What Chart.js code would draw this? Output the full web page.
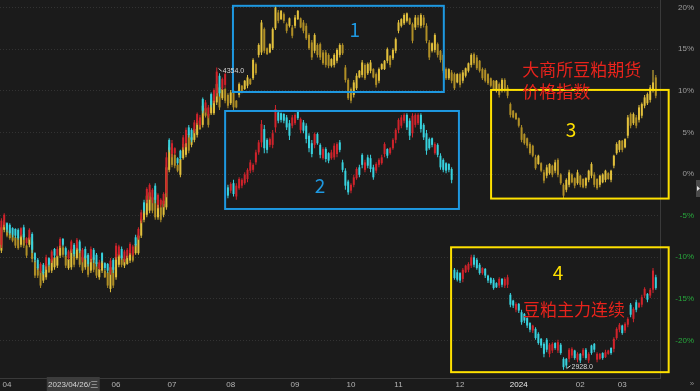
<!DOCTYPE html>
<html>
<head>
<meta charset="utf-8">
<script src="https://cdn.jsdelivr.net/npm/chart.js@4.4.1/dist/chart.umd.min.js"></script>
<style>
  html, body { margin: 0; padding: 0; background: #1b1b1b; }
  #wrap { width: 700px; height: 391px; }
</style>
</head>
<body>
<div id="wrap"><canvas id="chart" width="700" height="391"></canvas></div>
<script>
// 豆粕主力连续 (red / cyan), % change
const mainO = [
  -8.5, -6.1, -5.9, -6.1, -6.5, -6.6, -6.7, -7.3, -6.4, -8.3,
  -7.7, -7.2, -9.5, -10.3, -11.6, -10.9, -11.1, -10.1, -10.4, -9.0,
  -9.7, -8.6, -7.8, -8.9, -10.1, -9.2, -8.5, -8.9, -8.1, -10.3,
  -9.0, -9.7, -10.2, -9.1, -9.7, -11.3, -9.5, -10.7, -10.8, -11.7,
  -10.3, -10.0, -9.7, -9.0, -10.3, -9.8, -9.5, -9.7, -7.6, -7.7,
  -5.6, -3.4, -3.1, -2.7, -3.1, -1.4, -3.7, -3.7, -3.6, -2.3,
  4.1, 2.4, 2.5, 1.9, 2.8, 3.2, 3.7, 5.6, 5.3, 5.2,
  6.1, 5.9, 9.0, 7.7, 7.0, 9.6, 8.8, 9.7, 11.8, 10.3,
  10.7, -1.6, -2.0, -1.1, -2.7, -1.7, -1.4, -1.1, -0.6, 0.4,
  0.5, 1.4, 2.6, 3.8, 5.4, 4.1, 3.5, 3.5, 5.6, 7.4,
  7.3, 7.2, 6.8, 6.1, 5.8, 6.1, 7.6, 5.3, 6.2, 5.8,
  4.6, 3.7, 3.5, 4.8, 3.5, 1.9, 3.0, 2.5, 1.9, 2.0,
  2.4, 3.8, 1.4, 0.4, -0.9, -2.0, -1.3, -0.5, 0.8, 2.3,
  0.5, 2.0, 1.9, 0.8, 0.4, 1.1, 1.3, 2.4, 3.0, 2.5,
  3.1, 4.1, 5.3, 5.8, 6.4, 7.1, 6.4, 4.9, 5.9, 6.1,
  7.1, 5.9, 4.9, 4.2, 4.3, 2.5, 3.5, 2.2, 1.7, 1.3,
  1.2, 0.6, -11.5, -11.8, -11.9, -12.6, -11.8, -11.5, -11.0, -10.0,
  -10.3, -10.9, -11.9, -11.4, -12.2, -12.5, -12.7, -13.1, -13.4, -12.6,
  -13.4, -13.3, -14.5, -15.2, -16.3, -15.6, -16.6, -16.8, -17.3, -17.9,
  -18.8, -18.6, -19.2, -19.8, -20.4, -19.9, -21.6, -21.2, -20.3, -21.2,
  -20.5, -22.2, -22.2, -22.2, -21.8, -21.2, -22.3, -21.6, -21.8, -21.1,
  -22.4, -20.6, -20.4, -22.3, -22.2, -21.5, -22.0, -21.6, -20.9, -21.0,
  -19.7, -18.7, -18.2, -18.8, -18.1, -15.7, -17.4, -15.4, -16.0, -15.7,
  -14.6, -14.4, -14.6, -13.9, -12.4
];
const mainH = [
  -5.3, -4.7, -5.8, -5.9, -6.4, -6.5, -6.5, -6.4, -6.1, -7.6,
  -6.5, -7.0, -9.4, -10.1, -10.6, -10.7, -9.7, -10.0, -9.1, -8.9,
  -8.7, -7.6, -7.7, -8.7, -9.1, -7.9, -8.3, -7.7, -7.9, -8.9,
  -8.7, -9.5, -8.7, -8.9, -9.5, -10.3, -9.4, -10.6, -10.7, -10.1,
  -10.1, -8.3, -8.5, -8.7, -9.1, -8.9, -8.2, -8.5, -7.3, -6.4,
  -4.3, -3.1, -1.6, -1.1, -1.7, -1.1, -2.3, -2.9, -2.2, 2.6,
  4.3, 4.1, 3.2, 2.0, 2.9, 4.7, 5.6, 5.9, 5.5, 6.5,
  7.4, 7.1, 9.2, 8.9, 8.3, 9.8, 10.3, 12.8, 12.1, 11.6,
  12.2, -1.3, -1.0, -0.7, -1.1, -0.4, -0.5, 0.2, 0.7, 1.7,
  1.3, 2.9, 4.1, 6.5, 5.9, 4.3, 4.4, 5.3, 8.3, 7.7,
  7.4, 7.3, 7.1, 6.5, 7.1, 7.3, 7.7, 6.8, 6.5, 6.1,
  4.9, 4.1, 5.0, 5.0, 3.7, 3.2, 3.2, 2.6, 2.9, 3.7,
  3.8, 4.1, 1.7, 0.7, -0.7, -1.1, -0.1, 0.8, 1.1, 2.5,
  1.7, 2.3, 2.3, 1.1, 1.4, 1.9, 2.3, 3.8, 3.1, 3.2,
  4.3, 5.5, 6.7, 7.1, 7.3, 7.3, 6.7, 7.3, 7.3, 7.3,
  7.3, 6.1, 5.3, 4.4, 4.4, 3.8, 3.7, 2.5, 1.9, 1.4,
  1.3, 0.8, -11.3, -11.5, -11.8, -11.3, -10.9, -10.6, -9.7, -9.7,
  -10.1, -10.7, -11.2, -11.3, -12.1, -12.4, -12.5, -13.0, -12.4, -12.5,
  -12.4, -12.1, -14.3, -15.1, -15.4, -15.5, -16.3, -16.7, -17.2, -17.8,
  -18.1, -18.4, -19.0, -19.7, -20.2, -19.7, -20.3, -20.2, -20.2, -19.9,
  -20.3, -22.0, -22.1, -20.9, -20.8, -21.1, -21.4, -21.5, -20.9, -20.9,
  -21.4, -20.5, -20.3, -21.4, -21.5, -21.4, -21.1, -21.1, -20.8, -19.6,
  -18.4, -17.9, -18.1, -17.8, -17.2, -15.5, -16.0, -15.1, -15.4, -14.5,
  -13.6, -14.3, -13.7, -11.3, -12.1
];
const mainL = [
  -8.9, -6.4, -7.0, -7.3, -7.6, -7.7, -7.9, -7.6, -7.9, -8.5,
  -7.9, -9.5, -10.6, -11.5, -11.9, -12.1, -11.5, -11.1, -10.7, -10.1,
  -9.9, -8.9, -8.7, -9.9, -10.3, -9.5, -9.9, -9.1, -9.5, -10.6,
  -10.3, -11.1, -10.6, -10.7, -11.1, -11.5, -10.7, -11.5, -11.9, -12.1,
  -11.9, -10.3, -9.9, -10.3, -10.6, -10.1, -9.7, -9.9, -8.7, -7.9,
  -5.9, -4.7, -3.5, -3.1, -3.5, -3.5, -4.1, -4.0, -4.0, -2.8,
  2.6, 2.0, 2.3, 1.1, 1.7, 2.9, 3.2, 4.4, 3.8, 4.9,
  5.9, 5.6, 7.3, 7.4, 6.7, 8.0, 8.5, 9.3, 9.3, 10.1,
  10.4, -2.9, -2.3, -2.7, -3.1, -1.9, -1.7, -1.3, -1.0, 0.1,
  0.2, 1.1, 2.3, 3.2, 2.5, 2.5, 3.2, 3.1, 5.0, 6.1,
  6.2, 6.1, 5.3, 4.1, 5.5, 5.9, 6.5, 4.9, 4.9, 3.7,
  2.6, 2.0, 3.1, 3.5, 1.9, 1.7, 1.4, 1.3, 1.7, 1.7,
  2.0, 2.6, 0.2, -1.9, -2.5, -2.3, -1.6, -0.7, -0.4, 0.7,
  0.2, 0.7, 0.2, -0.7, 0.1, 0.8, 1.1, 2.0, 1.9, 2.3,
  2.9, 3.7, 4.9, 5.5, 6.1, 5.3, 4.1, 4.4, 5.6, 5.9,
  5.0, 4.1, 2.3, 2.9, 3.2, 2.3, 2.0, 0.5, 0.2, 0.1,
  0.2, -1.1, -12.7, -12.9, -13.1, -13.0, -11.9, -11.8, -11.3, -11.2,
  -11.5, -12.1, -12.1, -12.5, -13.1, -13.3, -13.9, -13.7, -13.7, -13.6,
  -13.7, -13.7, -16.0, -16.1, -16.6, -16.7, -18.1, -17.9, -18.5, -19.0,
  -19.1, -19.9, -20.5, -20.9, -22.0, -21.4, -22.0, -21.5, -21.1, -21.5,
  -21.7, -23.5, -23.3, -22.6, -22.1, -22.3, -22.6, -22.7, -22.1, -22.3,
  -22.7, -21.7, -21.4, -22.6, -22.3, -22.3, -22.1, -21.7, -21.7, -21.4,
  -19.9, -19.0, -19.3, -19.1, -18.4, -17.2, -17.8, -16.6, -16.1, -16.0,
  -14.9, -15.4, -14.9, -14.3, -13.9
];
const mainC = [
  -5.6, -4.9, -6.7, -7.1, -7.3, -7.4, -7.7, -6.5, -7.6, -7.7,
  -6.7, -9.1, -10.3, -11.3, -10.8, -11.9, -10.0, -10.9, -9.3, -9.8,
  -9.0, -7.8, -8.5, -9.7, -9.3, -8.1, -9.6, -7.9, -9.2, -9.1,
  -10.1, -10.8, -9.0, -10.3, -10.8, -10.6, -10.4, -11.3, -11.6, -10.4,
  -11.5, -8.6, -8.7, -10.1, -9.3, -9.1, -8.4, -8.7, -8.5, -6.6,
  -4.6, -4.4, -1.8, -1.3, -1.9, -3.1, -2.5, -3.1, -2.4, 2.0,
  2.9, 3.7, 3.1, 1.3, 1.9, 4.4, 5.3, 4.7, 4.1, 6.2,
  7.2, 6.8, 7.6, 8.6, 8.0, 8.3, 10.1, 12.3, 9.7, 11.4,
  12.0, -2.6, -1.2, -2.4, -1.4, -0.6, -0.7, 0.0, 0.5, 1.4,
  1.1, 2.6, 3.8, 6.0, 3.1, 2.9, 4.2, 4.9, 7.8, 6.4,
  6.5, 6.4, 5.6, 4.6, 6.8, 7.1, 6.7, 6.6, 5.2, 4.2,
  3.1, 2.4, 4.8, 3.7, 2.3, 3.0, 1.8, 1.6, 2.6, 3.4,
  3.6, 2.9, 0.5, -1.4, -2.2, -1.3, -0.4, 0.6, -0.1, 1.1,
  1.4, 1.0, 0.6, -0.4, 1.2, 1.7, 2.0, 3.6, 2.2, 3.1,
  4.1, 5.3, 6.5, 6.8, 7.1, 5.6, 4.6, 7.0, 7.1, 7.1,
  5.4, 4.4, 2.8, 3.1, 3.5, 3.6, 2.3, 0.8, 0.5, 0.4,
  0.5, -0.7, -12.5, -12.7, -12.8, -11.5, -11.0, -10.8, -10.0, -10.9,
  -11.3, -11.9, -11.3, -12.2, -12.8, -13.1, -13.7, -13.6, -12.6, -13.3,
  -12.6, -12.4, -15.7, -15.8, -15.6, -16.4, -17.8, -17.6, -18.2, -18.7,
  -18.2, -19.7, -20.3, -20.6, -21.6, -21.1, -20.5, -20.4, -20.9, -20.2,
  -21.5, -23.2, -23.0, -21.1, -21.0, -22.1, -21.6, -22.4, -21.1, -22.1,
  -21.6, -21.5, -21.1, -21.6, -21.6, -22.1, -21.4, -21.2, -21.5, -19.8,
  -18.6, -18.1, -19.1, -18.0, -17.4, -16.9, -16.2, -16.3, -15.5, -14.8,
  -13.8, -15.1, -13.9, -11.6, -13.7
];

// 大商所豆粕期货价格指数 (gold), % change
const idxO = [
  -9.2, -6.7, -6.7, -6.8, -7.3, -7.6, -7.6, -8.5, -7.2, -8.6,
  -8.5, -8.1, -10.4, -11.2, -11.6, -12.8, -12.4, -11.0, -11.6, -11.2,
  -11.0, -9.8, -8.8, -9.8, -11.3, -11.2, -9.4, -10.1, -9.0, -10.0,
  -11.2, -10.6, -11.6, -10.0, -10.6, -12.4, -11.6, -11.6, -11.8, -13.8,
  -11.2, -12.4, -10.9, -9.8, -11.0, -10.8, -10.4, -9.5, -9.5, -9.5,
  -7.4, -5.5, -4.9, -4.4, -2.8, -2.2, -5.2, -4.0, -4.9, -4.0,
  0.5, 3.0, 2.3, 1.1, -0.1, 1.9, 2.3, 4.8, 3.5, 4.1,
  4.7, 6.1, 5.9, 7.9, 7.2, 7.3, 7.3, 8.6, 10.4, 9.1,
  10.2, 9.5, 8.5, 9.8, 8.8, 9.5, 10.6, 10.2, 10.6, 11.4,
  11.5, 13.2, 14.3, 14.6, 17.4, 15.1, 14.6, 15.1, 17.5, 19.4,
  18.6, 19.2, 18.0, 17.8, 17.6, 17.8, 18.6, 18.7, 18.2, 17.8,
  16.7, 15.8, 14.8, 15.5, 15.6, 14.6, 14.6, 14.3, 13.0, 13.1,
  13.6, 14.3, 15.5, 12.8, 11.3, 10.2, 9.5, 10.3, 11.6, 11.9,
  13.1, 12.1, 12.4, 12.6, 12.0, 11.2, 12.6, 12.6, 13.6, 14.2,
  13.9, 14.8, 17.2, 17.8, 18.1, 18.4, 18.7, 18.0, 17.6, 18.8,
  17.8, 18.8, 17.8, 15.8, 14.8, 14.9, 15.6, 14.8, 14.3, 12.6,
  11.5, 12.2, 12.0, 11.0, 12.0, 11.2, 11.8, 12.4, 13.1, 14.4,
  14.0, 13.6, 12.6, 12.5, 12.0, 11.5, 11.2, 10.0, 10.8, 10.1,
  11.3, 10.4, 8.4, 7.6, 7.3, 6.7, 5.6, 4.8, 4.3, 3.6,
  3.4, 2.0, 1.2, 1.3, 0.2, -0.2, 0.1, 1.0, 0.4, 1.7,
  0.0, -1.3, -1.9, -1.3, 0.0, -0.5, -1.1, -0.2, -0.6, -1.4,
  -0.7, -0.2, 0.0, -0.6, -1.3, -1.0, -0.7, 0.1, -0.7, 1.0,
  2.5, 2.9, 4.0, 3.2, 4.6, 7.2, 6.1, 6.8, 6.5, 7.0,
  8.2, 8.5, 8.9, 10.1, 11.6
];
const idxH = [
  -6.1, -5.5, -6.6, -6.7, -7.2, -7.3, -7.3, -7.2, -7.0, -8.4,
  -7.3, -7.8, -10.2, -10.9, -11.4, -11.5, -10.6, -10.8, -10.0, -9.7,
  -9.6, -8.4, -8.5, -9.6, -10.0, -8.8, -9.1, -8.5, -8.8, -9.7,
  -9.6, -10.3, -9.6, -9.7, -10.3, -11.2, -10.2, -11.4, -11.5, -10.9,
  -10.9, -9.1, -9.4, -9.6, -10.0, -9.7, -9.0, -9.4, -8.2, -7.2,
  -5.2, -4.0, -2.4, -1.9, -2.5, -1.9, -3.1, -3.7, -3.0, 1.1,
  3.5, 3.2, 2.5, 1.2, 2.0, 3.8, 4.8, 5.0, 4.7, 5.6,
  6.6, 6.2, 8.4, 8.0, 7.4, 9.0, 9.5, 11.0, 10.7, 10.4,
  10.4, 9.7, 10.1, 10.1, 8.9, 11.0, 10.7, 11.3, 11.9, 11.5,
  13.9, 13.4, 15.7, 18.5, 17.6, 15.2, 15.7, 17.6, 20.3, 19.7,
  19.7, 19.4, 18.2, 18.8, 17.9, 19.1, 19.7, 18.8, 18.5, 18.1,
  16.9, 16.1, 16.9, 15.7, 15.8, 14.9, 14.9, 14.5, 13.9, 14.5,
  15.1, 15.7, 15.7, 13.1, 11.5, 10.4, 11.3, 12.1, 12.5, 13.7,
  13.3, 13.4, 13.7, 12.7, 12.2, 12.8, 13.3, 13.7, 15.2, 14.3,
  15.1, 16.4, 18.5, 18.7, 19.3, 19.4, 18.8, 18.2, 19.1, 19.1,
  19.3, 19.1, 18.1, 16.1, 15.8, 16.9, 15.8, 14.9, 14.5, 12.8,
  12.7, 12.5, 12.2, 12.1, 12.2, 12.5, 12.8, 13.4, 14.5, 14.6,
  14.3, 13.7, 12.8, 12.7, 12.1, 11.6, 11.3, 11.3, 11.0, 11.5,
  11.5, 10.7, 8.6, 7.7, 7.4, 6.8, 5.9, 4.9, 4.4, 3.8,
  3.5, 2.3, 2.3, 1.4, 0.5, 1.1, 1.3, 1.1, 1.7, 1.9,
  0.1, -1.1, -0.5, 0.5, 0.1, -0.4, 0.5, -0.1, -0.5, -0.4,
  0.5, 1.4, 0.2, -0.5, -0.1, 0.1, 0.5, 0.2, 0.5, 2.3,
  3.8, 4.1, 4.1, 4.3, 7.1, 7.4, 7.4, 7.1, 8.3, 8.6,
  9.5, 9.8, 10.7, 12.5, 11.9
];
const idxL = [
  -9.5, -7.0, -7.6, -7.9, -8.2, -8.9, -9.1, -8.8, -8.9, -10.1,
  -8.8, -10.6, -12.5, -12.5, -13.7, -13.1, -12.7, -11.9, -11.9, -11.5,
  -11.3, -10.1, -10.0, -11.3, -11.5, -11.5, -11.2, -10.3, -11.2, -11.9,
  -11.5, -12.4, -11.9, -11.8, -12.5, -12.7, -11.9, -12.5, -13.7, -14.2,
  -13.7, -12.7, -11.2, -11.2, -11.3, -10.9, -10.7, -10.6, -9.7, -9.7,
  -7.7, -5.8, -5.2, -4.7, -4.7, -5.5, -5.5, -5.8, -5.2, -4.3,
  0.2, 0.8, 0.7, 0.2, -0.4, 1.7, 2.0, 2.5, 3.2, 3.8,
  4.4, 5.3, 5.6, 6.8, 5.6, 7.1, 7.1, 8.3, 7.7, 8.9,
  8.5, 7.9, 8.3, 7.7, 7.9, 9.2, 9.7, 10.1, 10.3, 10.7,
  11.3, 11.9, 14.0, 14.3, 14.5, 14.3, 14.5, 14.9, 17.3, 18.1,
  18.5, 18.1, 16.9, 17.6, 16.3, 17.5, 18.5, 17.5, 16.9, 16.1,
  14.9, 13.7, 14.5, 14.0, 13.7, 13.1, 12.8, 12.7, 12.8, 12.8,
  13.3, 14.0, 14.3, 11.0, 8.9, 8.5, 9.2, 10.1, 11.5, 11.6,
  11.3, 11.9, 12.1, 11.5, 10.4, 10.9, 12.5, 12.5, 13.3, 12.8,
  13.7, 14.5, 16.9, 17.6, 17.9, 18.2, 17.9, 15.7, 17.3, 17.6,
  17.5, 17.6, 15.7, 13.7, 14.6, 14.6, 14.0, 13.4, 12.1, 11.3,
  11.3, 10.9, 10.1, 10.9, 10.4, 10.9, 11.6, 12.2, 12.8, 13.1,
  12.5, 12.2, 11.3, 11.0, 10.7, 10.4, 10.1, 9.8, 9.2, 9.8,
  9.8, 9.1, 6.8, 6.7, 6.5, 5.6, 3.8, 3.5, 3.1, 2.3,
  2.0, 0.5, 1.1, 0.2, -1.1, -0.5, -0.1, -0.4, 0.1, -0.4,
  -1.3, -2.9, -2.2, -1.6, -1.1, -1.7, -1.3, -1.6, -1.7, -1.7,
  -1.0, -0.5, -1.6, -1.9, -1.6, -1.1, -1.0, -0.7, -1.0, 0.7,
  2.3, 2.6, 2.6, 3.1, 4.3, 5.5, 5.9, 5.5, 6.2, 6.7,
  7.9, 8.3, 8.6, 9.8, 9.1
];
const idxC = [
  -6.4, -5.8, -7.4, -7.7, -8.0, -8.6, -8.9, -7.4, -8.6, -9.8,
  -7.6, -10.2, -12.2, -12.2, -13.4, -11.8, -10.8, -11.8, -10.2, -10.0,
  -9.8, -8.6, -9.7, -11.0, -10.2, -9.0, -10.9, -8.8, -10.9, -11.6,
  -9.8, -12.1, -9.8, -11.5, -12.2, -11.4, -10.4, -12.4, -13.4, -11.2,
  -13.4, -9.4, -9.6, -10.9, -10.2, -9.8, -9.2, -10.4, -8.4, -7.4,
  -5.4, -4.2, -2.6, -2.2, -4.4, -5.2, -3.4, -5.5, -3.2, 0.8,
  3.2, 1.1, 1.0, 0.4, 1.8, 3.6, 4.6, 2.8, 4.4, 5.4,
  6.4, 5.4, 8.2, 7.0, 5.9, 8.8, 9.2, 10.8, 8.0, 10.2,
  8.8, 8.2, 9.8, 8.0, 8.0, 10.8, 9.8, 11.2, 11.6, 10.8,
  13.7, 12.1, 15.5, 18.2, 14.8, 14.4, 15.6, 17.4, 20.0, 18.4,
  19.6, 18.4, 17.2, 18.7, 16.6, 18.8, 19.6, 17.6, 17.2, 16.3,
  15.1, 14.0, 16.7, 14.3, 14.0, 13.3, 13.1, 13.0, 13.8, 14.3,
  14.9, 15.5, 14.5, 11.3, 9.1, 8.8, 11.0, 11.8, 12.4, 13.4,
  11.5, 13.2, 13.4, 11.6, 10.7, 12.6, 13.2, 13.6, 15.0, 13.1,
  14.9, 16.2, 18.2, 18.6, 19.1, 19.3, 18.0, 16.0, 18.8, 17.9,
  19.1, 17.9, 16.0, 14.0, 15.7, 16.7, 14.3, 13.7, 12.4, 11.5,
  12.6, 11.2, 10.3, 12.0, 10.7, 12.2, 12.7, 13.3, 14.3, 13.3,
  12.7, 12.4, 11.5, 11.2, 10.9, 10.6, 10.2, 11.2, 9.5, 11.3,
  10.1, 9.4, 7.1, 6.8, 6.6, 5.8, 4.1, 3.7, 3.4, 2.5,
  2.2, 0.7, 2.2, 0.4, -0.8, 0.8, 1.2, -0.1, 1.4, -0.1,
  -1.1, -2.6, -0.7, 0.2, -1.0, -1.4, 0.2, -1.3, -1.6, -0.5,
  0.4, 1.2, -1.3, -1.7, -0.2, 0.0, 0.4, -0.6, 0.4, 2.2,
  3.6, 4.0, 2.9, 4.2, 6.8, 5.8, 7.2, 5.8, 8.0, 8.4,
  9.2, 9.6, 10.4, 11.0, 9.4
];

// x axis: month labels and the bar index where each month starts
const monthTicks = ['04', '05', '06', '07', '08', '09', '10', '11', '12', '2024', '02', '03'];
const monthStart = [2, 21, 41, 61, 82, 105, 125, 142, 164, 185, 207, 222];
const pctTicks = [-20, -15, -10, -5, 0, 5, 10, 15, 20];
const mainHighText = '4354.0';
const mainLowText = '2928.0';
const cursorText = '2023/04/26/三';
const cursorIndex = 18;

const RED = '#d0232b';
const CYAN = '#38d2de';
const GOLD_UP = '#e2c03c';
const GOLD_DN = '#b08f26';
const BLUE = '#1e98e0';
const YELLOW = '#ffe100';

// annotation boxes in data units (bar index, %)
const boxes = [
    { from: 82.8, to: 158.2, top: 20.2, bottom: 9.85, color: BLUE },
    { from: 80.0, to: 163.6, top: 7.57, bottom: -4.2, color: BLUE },
    { from: 175.1, to: 238.6, top: 10.1, bottom: -2.95, color: YELLOW },
    { from: 160.8, to: 238.6, top: -8.8, bottom: -23.8, color: YELLOW }
];
const notes = [
    { text: '1', at: 126.4, pct: 17.3, color: BLUE, size: 19, align: 'center' },
    { text: '2', at: 113.9, pct: -1.45, color: BLUE, size: 19, align: 'center' },
    { text: '3', at: 203.7, pct: 5.3, color: YELLOW, size: 19, align: 'center' },
    { text: '4', at: 199.0, pct: -11.9, color: YELLOW, size: 19, align: 'center' },
    { text: '大商所豆粕期货', at: 186.2, pct: 12.5, color: '#e8231c', size: 17, align: 'left' },
    { text: '价格指数', at: 186.2, pct: 9.95, color: '#e8231c', size: 17, align: 'left' },
    { text: '豆粕主力连续', at: 186.5, pct: -16.3, color: '#e8231c', size: 17, align: 'left' }
];

const slots = idxC.map((v, i) => i);
slots.push(slots.length);

const pairs = (a, b) => a.map((v, i) => [v, b[i]]);
const mainColor = c => mainC[c.dataIndex] >= mainO[c.dataIndex] ? RED : CYAN;
const idxColor = c => idxC[c.dataIndex] >= idxO[c.dataIndex] ? GOLD_UP : GOLD_DN;

const overlay = {
    id: 'overlay',
    afterDraw(chart) {
        const { ctx, scales: { x, y } } = chart;
        ctx.save();

        boxes.forEach(b => {
            const l = x.getPixelForValue(b.from), r = x.getPixelForValue(b.to);
            const t = y.getPixelForValue(b.top), btm = y.getPixelForValue(b.bottom);
            ctx.strokeStyle = b.color;
            ctx.lineWidth = 2;
            ctx.strokeRect(l, t, r - l, btm - t);
        });

        notes.forEach(n => {
            ctx.fillStyle = n.color;
            ctx.font = n.size + 'px "Noto Sans CJK SC", "Noto Sans", sans-serif';
            ctx.textAlign = n.align;
            ctx.textBaseline = 'middle';
            ctx.fillText(n.text, x.getPixelForValue(n.at), y.getPixelForValue(n.pct));
        });

        // high / low markers of the main contract
        const hiVal = Math.max(...mainH), loVal = Math.min(...mainL);
        const hx = x.getPixelForValue(mainH.indexOf(hiVal)), hy = y.getPixelForValue(hiVal);
        const lx = x.getPixelForValue(mainL.indexOf(loVal)), ly = y.getPixelForValue(loVal);
        ctx.strokeStyle = '#d8d8d8';
        ctx.lineWidth = 1;
        ctx.beginPath();
        ctx.moveTo(hx + 2, hy + 1); ctx.lineTo(hx + 5, hy + 4);
        ctx.moveTo(lx + 3, ly - 1); ctx.lineTo(lx + 7, ly - 4);
        ctx.stroke();
        ctx.fillStyle = '#d8d8d8';
        ctx.font = '7px "Liberation Sans", sans-serif';
        ctx.textAlign = 'left';
        ctx.textBaseline = 'middle';
        ctx.fillText(mainHighText, hx + 6, hy + 4);
        ctx.fillText(mainLowText, lx + 8, ly - 3);

        // cursor date label on the time axis
        const cx = x.getPixelForValue(cursorIndex) - 5;
        ctx.fillStyle = '#3c3c3c';
        ctx.fillRect(cx, 377, 53, 14);
        ctx.fillStyle = '#d4d4d4';
        ctx.font = '8px "Liberation Sans", "Noto Sans CJK SC", sans-serif';
        ctx.textAlign = 'center';
        ctx.fillText(cursorText, cx + 26.5, 384.5);

        // small chrome bits on the right edge
        ctx.fillStyle = '#8a8a8a';
        ctx.font = '8px "Liberation Sans", sans-serif';
        ctx.fillText('»', 692, 384);
        ctx.fillStyle = '#4a4a4a';
        ctx.fillRect(696, 180, 4, 17);
        ctx.fillStyle = '#e0e0e0';
        ctx.beginPath();
        ctx.moveTo(697, 186); ctx.lineTo(700, 188.5); ctx.lineTo(697, 191); ctx.fill();

        ctx.restore();
    }
};

new Chart(document.getElementById('chart'), {
    type: 'bar',
    data: {
        labels: slots,
        datasets: [
            { label: 'main body', data: pairs(mainO, mainC), backgroundColor: mainColor, barThickness: 2, order: 1 },
            { label: 'main wick', data: pairs(mainL, mainH), backgroundColor: mainColor, barThickness: 1, order: 2 },
            { label: 'index body', data: pairs(idxO, idxC), backgroundColor: idxColor, barThickness: 2, order: 3 },
            { label: 'index wick', data: pairs(idxL, idxH), backgroundColor: idxColor, barThickness: 1, order: 4 }
        ]
    },
    options: {
        responsive: false,
        animation: false,
        events: [],
        layout: { padding: { left: 0, top: 0, bottom: 0, right: 6 } },
        datasets: { bar: { grouped: false, borderWidth: 0, inflateAmount: 0 } },
        plugins: { legend: { display: false }, tooltip: { enabled: false } },
        scales: {
            x: {
                type: 'category',
                offset: true,
                grid: { display: false, drawTicks: false },
                border: { display: true, color: '#3a3a3a' },
                ticks: {
                    autoSkip: false,
                    maxRotation: 0,
                    padding: 2,
                    font: { family: 'Liberation Sans', size: 8 },
                    color: c => c.tick && c.tick.label === '2024' ? '#ececec' : '#b4b4b4',
                    callback: v => monthTicks[monthStart.indexOf(v)]
                },
                afterBuildTicks: s => { s.ticks = monthStart.map(v => ({ value: v })); },
                afterFit: s => { s.height = 13; s.paddingLeft = 0; s.paddingRight = 0; }
            },
            y: {
                position: 'right',
                min: -24.5,
                max: 20.9,
                grid: { color: '#333333', drawTicks: false },
                border: { display: true, color: '#3a3a3a', dash: [1, 2] },
                ticks: {
                    crossAlign: 'far',
                    padding: 4,
                    font: { family: 'Liberation Sans', size: 8 },
                    color: c => c.tick && c.tick.value < 0 ? '#27a83c' : '#9c9c9c',
                    callback: v => v + '%'
                },
                afterBuildTicks: s => { s.ticks = pctTicks.map(v => ({ value: v })); },
                afterFit: s => { s.width = 34; s.paddingTop = 0; s.paddingBottom = 0; }
            }
        }
    },
    plugins: [overlay]
});
</script>
</body>
</html>
